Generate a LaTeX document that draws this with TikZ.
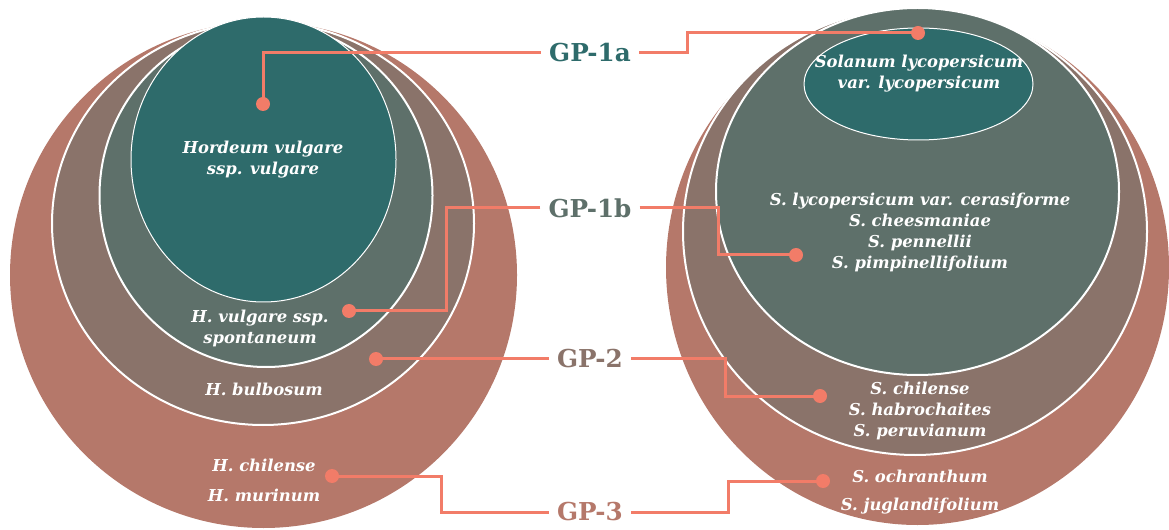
\documentclass[tikz,border=0pt]{standalone}
\usepackage{fontspec}
\setmainfont{DejaVu Serif}
\definecolor{gpthree}{RGB}{181,120,106}
\definecolor{gptwo}{RGB}{138,115,106}
\definecolor{gponeb}{RGB}{94,112,106}
\definecolor{gponea}{RGB}{46,107,107}
\definecolor{lead}{RGB}{242,124,104}
\begin{document}
\begin{tikzpicture}[x=0.75pt,y=0.75pt,yscale=-1,xscale=1,
    pool/.style={draw=white,line width=1.5pt},
    species/.style={text=white,font=\fontsize{12.3}{15.75}\selectfont\bfseries\itshape,align=center,inner sep=0.75pt},
    gplabel/.style={font=\fontsize{18.5}{20}\selectfont\bfseries,inner sep=6pt},
    leadline/.style={draw=lead,line width=2.25pt},
    dot/.style={circle,fill=lead,inner sep=0pt,minimum size=10.5pt}]
\useasboundingbox (0,0) rectangle (1169,530);
\clip (0,0) rectangle (1169,530);

%Shape: Circle [left, GP-3]
\fill [gpthree] (263.5,275) ellipse (253.5 and 253);
%Shape: Circle [left, GP-2]
\filldraw [pool,fill=gptwo] (263,223.5) ellipse (211 and 201.5);
%Shape: Circle [left, GP-1b]
\filldraw [pool,fill=gponeb] (266,195.5) ellipse (166.5 and 171.5);
%Shape: Ellipse [left, GP-1a]
\filldraw [pool,line width=0.75pt,fill=gponea] (263.5,159.5) ellipse (132.5 and 142.5);

%Shape: Circle [right, GP-3]
\fill [gpthree] (917.5,267.5) ellipse (251.5 and 257.5);
%Shape: Circle [right, GP-2]
\filldraw [pool,fill=gptwo] (915,231.5) ellipse (232 and 223.5);
%Shape: Circle [right, GP-1b]
\filldraw [pool,fill=gponeb] (917.5,191.5) ellipse (201.5 and 183.5);
%Shape: Ellipse [right, GP-1a]
\filldraw [pool,line width=0.75pt,fill=gponea] (918.5,84) ellipse (114.5 and 56);

% Text Node
\node [species] (hvul) at (263,160) {Hordeum vulgare\\ssp. vulgare};
\node [species] (hspon) at (260,328) {H. vulgare ssp.\\spontaneum};
\node [species] (hbulb) at (264,389) {H. bulbosum};
\node [species] (hchil) at (264,465) {H. chilense};
\node [species] (hmur) at (264,495) {H. murinum};
% Text Node
\node [species] (slyc) at (919,74) {Solanum lycopersicum\\var. lycopersicum};
\node [species] (scer) at (920,232.5) {S. lycopersicum var. cerasiforme\\S. cheesmaniae\\S. pennellii\\S. pimpinellifolium};
\node [species] (schil) at (920,411) {S. chilense\\S. habrochaites\\S. peruvianum};
\node [species] (sochr) at (920,476) {S. ochranthum};
\node [species] (sjug) at (920,506) {S. juglandifolium};

% Text Node
\node [gplabel,text=gponea] (gpa) at (590,53) {GP-1a};
\node [gplabel,text=gponeb] (gpb) at (590,208) {GP-1b};
\node [gplabel,text=gptwo] (gpc) at (590,359) {GP-2};
\node [gplabel,text=gpthree] (gpd) at (590,512) {GP-3};

%Dots
\node [dot] (da1) at (263,104) {};
\node [dot] (da2) at (918,33) {};
\node [dot] (db1) at (349,311) {};
\node [dot] (db2) at (796,255) {};
\node [dot] (dc1) at (376,359) {};
\node [dot] (dc2) at (820,396) {};
\node [dot] (dd1) at (332,476) {};
\node [dot] (dd2) at (823,481) {};
\coordinate (ka) at (687,33);
\coordinate (kb1) at (446,311);
\coordinate (kb2) at (718,255);
\coordinate (kc2) at (725,396);
\coordinate (kd1) at (441,476);
\coordinate (kd2) at (728,481);

%Straight Lines
\draw [leadline] (gpa.west) -| (da1.center);
\draw [leadline] (gpa.east) -| (ka) -- (da2.center);
\draw [leadline] (gpb.west) -| (kb1) -- (db1.center);
\draw [leadline] (gpb.east) -| (kb2) -- (db2.center);
\draw [leadline] (gpc.west) -- (dc1.center);
\draw [leadline] (gpc.east) -| (kc2) -- (dc2.center);
\draw [leadline] (gpd.west) -| (kd1) -- (dd1.center);
\draw [leadline] (gpd.east) -| (kd2) -- (dd2.center);

\end{tikzpicture}
\end{document}
